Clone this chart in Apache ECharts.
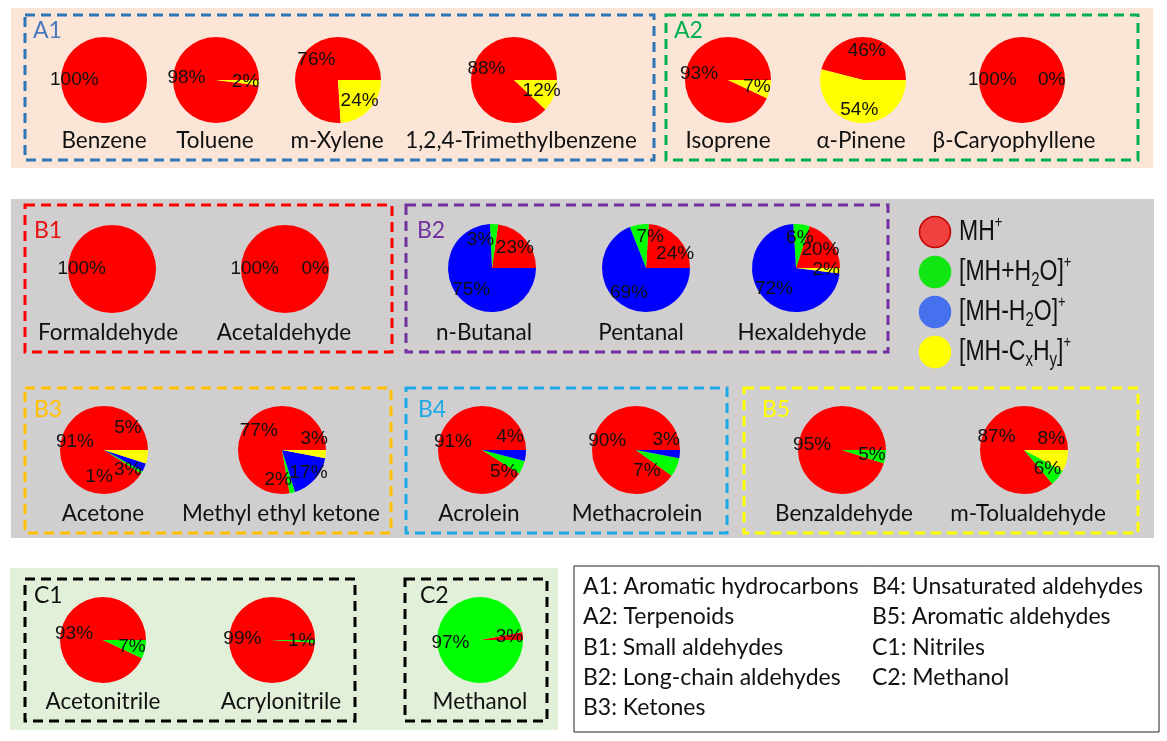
<!DOCTYPE html>
<html>
<head>
<meta charset="utf-8">
<script src="https://cdn.jsdelivr.net/npm/echarts@6/dist/echarts.min.js"></script>
<style>
html,body{margin:0;padding:0;background:#fff;}
#chart{width:1167px;height:741px;}
</style>
</head>
<body>
<div id="chart"></div>
<script>
// ---------- DATA ----------
const compounds = ['Benzene','Toluene','m-Xylene','1,2,4-Trimethylbenzene','Isoprene','α-Pinene','β-Caryophyllene',
  'Formaldehyde','Acetaldehyde','n-Butanal','Pentanal','Hexaldehyde',
  'Acetone','Methyl ethyl ketone','Acrolein','Methacrolein','Benzaldehyde','m-Tolualdehyde',
  'Acetonitrile','Acrylonitrile','Methanol'];
// percentage of each product ion (null = not present)
const ionMH        = [100, 98, 76, 88, 93, 46, 100, 100, 100, 23, 24, 20, 91, 77, 91, 90, 95, 87, 93, 99, 3];
const ionMHplusH2O = [null,null,null,null,null,null,null, null,null, 3, 7, 6, 1, 2, 5, 7, 5, 6, 7, 1, 97];
const ionMHminusH2O= [null,null,null,null,null,null,null, null,null, 75, 69, 72, 3, 17, 4, 3, null,null, null,null,null];
const ionMHminusCxHy=[null, 2, 24, 12, 7, 54, 0, null, 0, null,null, 2, 5, 3, null,null, null, 8, null,null,null];

const ionKeys = ['MH+','[MH+H2O]+','[MH-H2O]+','[MH-CxHy]+'];
const ionRich = ['{n|MH}{sup|+}','{n|[MH+H}{sub|2}{n|O]}{sup|+}','{n|[MH-H}{sub|2}{n|O]}{sup|+}','{n|[MH-C}{sub|x}{n|H}{sub|y}{n|]}{sup|+}'];

const groupCodes = ['A1','A2','B1','B2','B3','B4','B5','C1','C2'];
const groupNames = ['Aromatic hydrocarbons','Terpenoids','Small aldehydes','Long-chain aldehydes','Ketones',
  'Unsaturated aldehydes','Aromatic aldehydes','Nitriles','Methanol'];

// ---------- LAYOUT / STYLE ----------
const ionColors = ['#ff0000','#00ff00','#0000ff','#ffff00'];
const legendFill = ['#f04040','#12e612','#4670ee','#ffff00'];
const legendStroke = ['#c00000','#12e612','#4670ee','#ffff00'];
// pie center x, center y, radius
const pieLayout = [
  [104,80,43],[216,80,43],[338,80,43],[514,80,43],[728,80,43],[863,80,43],[1022,80,43],
  [112,269,44],[285,269,44],[492,268,44],[646,268,44],[796,268,44],
  [104,450,44],[282,450,44],[482,450,44],[636,450,44],[842,450,44],[1024,450,44],
  [103,640,43],[272,640,43],[480,640,43]
];
const nameLayout = [
  [104,141],[215,141],[337,141],[521,141],[728,141],[861,141],[1014,141],
  [108,333],[284,333],[484,333],[641,333],[802,333],
  [103,514],[281,514],[479,514],[637,514],[844,514],[1028,514],
  [103,702],[281,702],[480,702]
];
// label nudges for crowded small slices: [compound index, ion index, dx, dy]
const labelNudges = [
  [9,1,-13,2], [10,0,7,6], [10,1,9,-1],
  [12,1,-31,11], [12,2,-4,8], [12,3,-6,-27],
  [13,1,-11,0], [13,2,4,3], [13,3,2,-14],
  [14,1,-6,10], [14,2,-2,-17],
  [15,1,-17,9], [15,2,0,-13],
  [17,3,-2,-19]
];
// group box: x, y, w, h, color, label x, label y, label colour
const boxLayout = [
  [25,15,629,145,'#2e75b6',33,31,'#4a78c0'],
  [666,15,472,145,'#00b050',674,31,'#00b050'],
  [25,205,367,147,'#ff0000',34,231,'#e81010'],
  [406,205,482,147,'#7030a0',417,231,'#7030a0'],
  [25,388,366,145,'#ffc000',34,410,'#ffc000'],
  [406,388,321,145,'#1fa8e6',418,410,'#1fa8e6'],
  [744,388,394,145,'#ffff00',762,410,'#ffff00'],
  [25,579,330,142,'#000000',34,596,'#111111'],
  [405,579,142,142,'#000000',420,596,'#111111']
];

const ionArrays = [ionMH, ionMHplusH2O, ionMHminusH2O, ionMHminusCxHy];
const series = [];
compounds.forEach((c, i) => {
  const [cx, cy, r] = pieLayout[i];
  const data = [];
  ionArrays.forEach((arr, k) => {
    if (arr[i] !== null) data.push({ name: ionKeys[k], value: arr[i], color: ionColors[k], ion: k });
  });
  series.push({
    type: 'pie', center: [cx, cy], radius: r, startAngle: 0, clockwise: false,
    silent: true, animation: false, z: 3,
    label: { show: false }, labelLine: { show: false },
    itemStyle: { borderWidth: 0 },
    data: data.map(d => ({ name: d.name, value: d.value, itemStyle: { color: d.color } }))
  });
  // label layer (same data, transparent) so labels sit at ~0.62 r like the original
  series.push({
    type: 'pie', center: [cx, cy], radius: [0.24 * r, r], startAngle: 0, clockwise: false,
    silent: true, animation: false, z: 4, avoidLabelOverlap: false,
    itemStyle: { color: 'rgba(0,0,0,0)', borderWidth: 0 },
    label: { show: true, position: 'inside', formatter: p => p.value + '%',
      fontFamily: 'Liberation Sans', fontSize: 19, color: '#111', textBorderWidth: 0 },
    labelLine: { show: false },
    labelLayout: { hideOverlap: false },
    data: data.map(d => {
      const item = { name: d.name, value: d.value };
      const n = labelNudges.find(a => a[0] === i && a[1] === d.ion);
      if (n) item.label = { offset: [n[2], n[3]] };
      return item;
    })
  });
});

const graphic = [];
// panel backgrounds
graphic.push({ type: 'rect', z: 0, shape: { x: 11, y: 8, width: 1142, height: 160 }, style: { fill: '#fbe5d6' } });
graphic.push({ type: 'rect', z: 0, shape: { x: 11, y: 199, width: 1143, height: 339 }, style: { fill: '#d0cece' } });
graphic.push({ type: 'rect', z: 0, shape: { x: 10, y: 568, width: 548, height: 162 }, style: { fill: '#e2f0d9' } });

boxLayout.forEach((b, i) => {
  graphic.push({ type: 'rect', z: 1, shape: { x: b[0], y: b[1], width: b[2], height: b[3] },
    style: { fill: 'none', stroke: b[4], lineWidth: 3, lineDash: [10, 6] } });
  graphic.push({ type: 'text', z: 5, x: b[5], y: b[6],
    style: { text: groupCodes[i], fill: b[7], font: '23px Lato', textAlign: 'left', textVerticalAlign: 'middle' } });
});

compounds.forEach((c, i) => {
  graphic.push({ type: 'text', z: 5, x: nameLayout[i][0], y: nameLayout[i][1],
    style: { text: c, fill: '#111', font: '22.5px Lato', textAlign: 'center', textVerticalAlign: 'middle' } });
});

// ion legend
const legY = [232, 272, 312, 352];
ionKeys.forEach((k, i) => {
  graphic.push({ type: 'circle', z: 5, shape: { cx: 935, cy: legY[i], r: 15.5 },
    style: { fill: legendFill[i], stroke: legendStroke[i], lineWidth: 1.5 } });
  graphic.push({ type: 'text', z: 5, x: 959, y: legY[i], scaleY: 1.3,
    style: { text: ionRich[i], textAlign: 'left', textVerticalAlign: 'middle',
      rich: {
        n: { fontFamily: 'Liberation Sans', fontSize: 23, fill: '#111', lineHeight: 28 },
        sub: { fontFamily: 'Liberation Sans', fontSize: 15, fill: '#111', verticalAlign: 'bottom', lineHeight: 15 },
        sup: { fontFamily: 'Liberation Sans', fontSize: 13, fill: '#111', verticalAlign: 'top', lineHeight: 13 }
      } } });
});

// group description box
graphic.push({ type: 'rect', z: 1, shape: { x: 574, y: 566, width: 585, height: 166 },
  style: { fill: '#ffffff', stroke: '#222', lineWidth: 1 } });
const noteCol = [[583, 587], [583, 617], [583, 648], [583, 678], [583, 708], [872, 587], [872, 617], [872, 648], [872, 678]];
groupCodes.forEach((g, i) => {
  graphic.push({ type: 'text', z: 5, x: noteCol[i][0], y: noteCol[i][1],
    style: { text: g + ': ' + groupNames[i], fill: '#111', font: '23px Lato', textAlign: 'left', textVerticalAlign: 'middle' } });
});

const chart = echarts.init(document.getElementById('chart'), null, { renderer: 'canvas' });
chart.setOption({ backgroundColor: '#ffffff', animation: false, series, graphic });
</script>
</body>
</html>
